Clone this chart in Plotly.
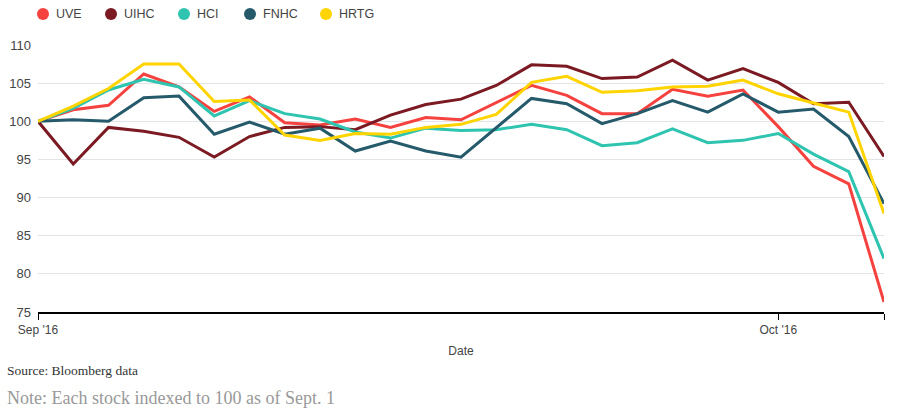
import plotly.graph_objects as go

x_idx = list(range(25))
tick_vals = [0, 21, 24]
tick_text = ["Sep '16", "Oct '16", ""]

uve = [100, 101.5, 102.1, 106.2, 104.5, 101.3, 103.2, 99.8, 99.5, 100.3, 99.2, 100.5, 100.2, 102.4,
       104.7, 103.4, 101.0, 101.0, 104.2, 103.3, 104.1, 99.3, 94.1, 91.8, 76.3]
uihc = [100, 94.4, 99.2, 98.7, 97.9, 95.3, 98.0, 99.2, 99.3, 98.9, 100.8, 102.2, 102.9, 104.7,
        107.4, 107.2, 105.6, 105.8, 108.0, 105.4, 106.9, 105.1, 102.3, 102.5, 95.4]
hci = [100, 101.7, 104.1, 105.5, 104.5, 100.7, 102.7, 101.0, 100.3, 98.6, 97.8, 99.1, 98.8, 98.9,
       99.6, 98.9, 96.8, 97.2, 99.0, 97.2, 97.5, 98.4, 95.7, 93.4, 82.0]
fnhc = [100, 100.2, 100.0, 103.1, 103.3, 98.3, 99.9, 98.3, 99.1, 96.1, 97.4, 96.1, 95.3, 99.2,
        103.0, 102.3, 99.7, 101.0, 102.7, 101.2, 103.6, 101.2, 101.6, 98.0, 89.2]
hrtg = [100, 102.0, 104.3, 107.5, 107.5, 102.6, 102.8, 98.2, 97.5, 98.4, 98.3, 99.2, 99.6, 100.9,
        105.1, 105.9, 103.8, 104.0, 104.5, 104.6, 105.4, 103.6, 102.4, 101.2, 87.9]

names = ["UVE", "UIHC", "HCI", "FNHC", "HRTG"]
series = [uve, uihc, hci, fnhc, hrtg]
colors = ["#F5423F", "#7B1A22", "#2EC4B0", "#255A6B", "#FFD400"]

# layout geometry (pixels)
W, H = 903, 410
ML, MR, MT, MB = 38, 19, 45, 98
PW, PH = W - ML - MR, H - MT - MB
legend_px = [43, 111, 184, 250, 326]
legend_py = 14


def px2x(px):
    return (px - ML) / PW


def py2y(py):
    return (H - MB - py) / PH


fig = go.Figure()
for n, s, c in zip(names, series, colors):
    fig.add_trace(go.Scatter(x=x_idx, y=s, mode="lines", name=n, showlegend=False,
                             line=dict(color=c, width=3), hoverinfo="x+y+name"))

shapes = []
annotations = []
for n, c, lx in zip(names, colors, legend_px):
    shapes.append(dict(type="circle", xref="paper", yref="paper", xsizemode="pixel",
                       ysizemode="pixel", xanchor=px2x(lx), yanchor=py2y(legend_py),
                       x0=-6, x1=6, y0=-6, y1=6, fillcolor=c, line=dict(width=0)))
    annotations.append(dict(text=n, xref="paper", yref="paper", x=px2x(lx + 11),
                            y=py2y(legend_py), xanchor="left", yanchor="middle",
                            showarrow=False, font=dict(size=12.5, color="#444")))

annotations += [
    dict(text="Source: Bloomberg data", xref="paper", yref="paper", x=px2x(5), y=py2y(370),
         xanchor="left", yanchor="middle", showarrow=False,
         font=dict(family="Liberation Serif, DejaVu Serif, serif", size=13.5, color="#333")),
    dict(text="Note: Each stock indexed to 100 as of Sept. 1", xref="paper", yref="paper",
         x=px2x(5), y=py2y(398), xanchor="left", yanchor="middle", showarrow=False,
         font=dict(family="Liberation Serif, DejaVu Serif, serif", size=18, color="#999")),
]

fig.update_layout(
    width=W, height=H,
    margin=dict(l=ML, r=MR, t=MT, b=MB, autoexpand=False),
    plot_bgcolor="white", paper_bgcolor="white",
    font=dict(family="Liberation Sans, Arial, sans-serif", color="#444", size=12),
    showlegend=False,
    xaxis=dict(range=[0, 24], tickvals=tick_vals, ticktext=tick_text, showgrid=False,
               showline=True, linecolor="black", linewidth=1.5, ticks="outside",
               ticklen=6, tickcolor="black", zeroline=False, automargin=False,
               title=dict(text="Date", font=dict(size=12, color="#444"), standoff=10),
               tickfont=dict(size=12, color="#444")),
    yaxis=dict(range=[75, 110], tickvals=[75, 80, 85, 90, 95, 100, 105, 110],
               showgrid=True, gridcolor="#E3E3EA", gridwidth=1, zeroline=False,
               showline=False, ticks="", automargin=False, ticklabelstandoff=6,
               tickfont=dict(size=13, color="#444")),
    shapes=shapes,
    annotations=annotations,
)

fig.write_html("out.html", config={"displayModeBar": False},
               post_script="document.body.style.margin='0';document.body.style.overflow='hidden';")
